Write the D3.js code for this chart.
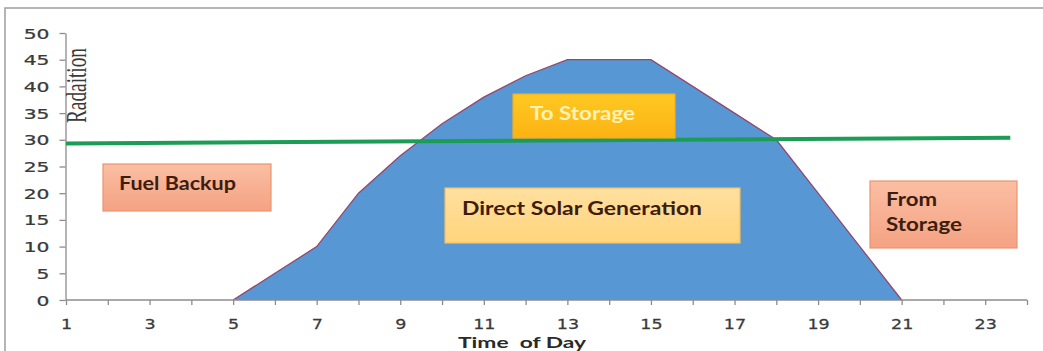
<!DOCTYPE html>
<html>
<head>
<meta charset="utf-8">
<script src="https://cdn.jsdelivr.net/npm/d3@7"></script>
<style>
  html, body { margin: 0; padding: 0; background: #ffffff; }
  svg { display: block; }
</style>
</head>
<body>
<svg id="chart" width="1043" height="351"></svg>
<script>
// ---- data ----
const hours = [5, 6, 7, 8, 9, 10, 11, 12, 13, 14, 15, 16, 17, 18, 19, 20, 21];
const radiation = [0, 5, 10, 20, 27, 33, 38, 42, 45, 45, 45, 40, 35, 30, 20, 10, 0];
const demandHours = [1, 23.6];
const demandValues = [29.3, 30.4];
const xTickValues = d3.range(1, 25);
const xTickLabels = [1, 3, 5, 7, 9, 11, 13, 15, 17, 19, 21, 23];
const yTickValues = [0, 5, 10, 15, 20, 25, 30, 35, 40, 45, 50];
const yTitle = "Radaition";
const xTitle = "Time  of Day";
const annotationText = [
  ["Fuel Backup"],
  ["To Storage"],
  ["Direct Solar Generation"],
  ["From", "Storage"]
];

// ---- layout ----
const svg = d3.select("#chart");
const x = d3.scaleLinear().domain([1, 24]).range([66, 1027]);
const y = d3.scaleLinear().domain([0, 50]).range([300, 33]);

const defs = svg.append("defs");
function vGrad(id, top, bottom) {
  const g = defs.append("linearGradient").attr("id", id)
    .attr("x1", 0).attr("y1", 0).attr("x2", 0).attr("y2", 1);
  g.append("stop").attr("offset", "0%").attr("stop-color", top);
  g.append("stop").attr("offset", "100%").attr("stop-color", bottom);
}
vGrad("salmon", "#fbbea3", "#f4a283");
vGrad("gold", "#ffc823", "#fbb312");
vGrad("cream", "#ffe0a0", "#ffd47c");

// chart frame
svg.append("rect")
  .attr("x", 5).attr("y", 8).attr("width", 1060).attr("height", 400)
  .attr("fill", "#ffffff").attr("stroke", "#a3a3a3").attr("stroke-width", 1.6);

// solar radiation area
const pts = hours.map((h, i) => [h, radiation[i]]);
svg.append("path")
  .datum(pts)
  .attr("fill", "#5797d4")
  .attr("d", d3.area().x(d => x(d[0])).y0(y(0)).y1(d => y(d[1])));
svg.append("path")
  .datum(pts)
  .attr("fill", "none")
  .attr("stroke", "#94476d")
  .attr("stroke-width", 1.3)
  .attr("d", d3.line().x(d => x(d[0])).y(d => y(d[1])));

// axes
const axisColor = "#8c8c8c";
const xAxis = svg.append("g")
  .attr("transform", `translate(0,${y(0)})`)
  .call(d3.axisBottom(x).tickValues(xTickValues).tickSizeOuter(0).tickSize(5)
    .tickFormat(d => xTickLabels.includes(d) ? d : ""));
xAxis.select(".domain").attr("stroke", axisColor).attr("stroke-width", 1.3)
  .attr("d", `M${x(1)},0H${x(24)}`);
xAxis.selectAll(".tick line").attr("stroke", axisColor).attr("stroke-width", 1.3);
xAxis.selectAll(".tick text")
  .attr("y", 29.5).attr("dy", 0)
  .attr("transform", "scale(1.3,1)")
  .attr("font-family", "DejaVu Sans")
  .attr("font-size", 13.5)
  .attr("fill", "#3a3a3a")
  .attr("stroke", "#3a3a3a").attr("stroke-width", 0.25);

const yAxis = svg.append("g")
  .attr("transform", `translate(${x(1) - 0.5},0)`)
  .call(d3.axisLeft(y).tickValues(yTickValues).tickSize(6).tickSizeOuter(0));
yAxis.select(".domain").attr("stroke", axisColor).attr("stroke-width", 1.3);
yAxis.selectAll(".tick line").attr("stroke", axisColor).attr("stroke-width", 1.3);
yAxis.selectAll(".tick text")
  .attr("x", 0).attr("dy", "0.36em")
  .attr("text-anchor", "end")
  .attr("transform", "translate(-16,0) scale(1.45,1)")
  .attr("font-family", "DejaVu Sans")
  .attr("font-size", 14)
  .attr("fill", "#3a3a3a")
  .attr("stroke", "#3a3a3a").attr("stroke-width", 0.25);

// demand line
svg.append("path")
  .datum(demandHours.map((h, i) => [h, demandValues[i]]))
  .attr("fill", "none")
  .attr("stroke", "#1b9d55")
  .attr("stroke-width", 4)
  .attr("d", d3.line().x(d => x(d[0])).y(d => y(d[1])));

// axis titles
svg.append("text")
  .attr("transform", "translate(86,123) scale(1.5,1) rotate(-90)")
  .attr("font-family", "Liberation Serif")
  .attr("font-size", 19)
  .attr("fill", "#3a3a3a")
  .attr("textLength", 75)
  .attr("lengthAdjust", "spacingAndGlyphs")
  .text(yTitle);

svg.append("text")
  .attr("x", 458).attr("y", 347.5)
  .attr("font-family", "Lato")
  .attr("font-weight", "bold")
  .attr("font-size", 15.5)
  .attr("fill", "#2a2a2a")
  .attr("textLength", 128)
  .attr("lengthAdjust", "spacingAndGlyphs")
  .attr("xml:space", "preserve")
  .style("white-space", "pre")
  .text(xTitle);

// annotation boxes
const boxLayout = [
  { x0: 103, y0: 164, x1: 271, y1: 211, fill: "url(#salmon)", stroke: "#e99470", color: "#3c1d0e",
    lines: [{ x: 119, y: 190, w: 117 }] },
  { x0: 513, y0: 94, x1: 675, y1: 138, fill: "url(#gold)", stroke: "#f2b01a", color: "#fff2b5",
    lines: [{ x: 530, y: 120, w: 105 }] },
  { x0: 445, y0: 188, x1: 740, y1: 243, fill: "url(#cream)", stroke: "#f2c062", color: "#3c1d0e",
    lines: [{ x: 462, y: 215, w: 240 }] },
  { x0: 870, y0: 181, x1: 1017, y1: 248, fill: "url(#salmon)", stroke: "#e99470", color: "#3c1d0e",
    lines: [{ x: 886, y: 206, w: 51 }, { x: 886, y: 231, w: 76 }] }
];

const boxes = svg.selectAll("g.note")
  .data(boxLayout.map((b, i) => ({ ...b, text: annotationText[i] })))
  .join("g").attr("class", "note");
boxes.append("rect")
  .attr("x", d => d.x0).attr("y", d => d.y0)
  .attr("width", d => d.x1 - d.x0).attr("height", d => d.y1 - d.y0)
  .attr("fill", d => d.fill).attr("stroke", d => d.stroke).attr("stroke-width", 1.2);
boxes.each(function (d) {
  d3.select(this).selectAll("text")
    .data(d.lines.map((l, i) => ({ ...l, t: d.text[i], color: d.color })))
    .join("text")
    .attr("x", l => l.x).attr("y", l => l.y)
    .attr("font-family", "Lato")
    .attr("font-weight", "bold")
    .attr("font-size", 18)
    .attr("fill", l => l.color)
    .attr("textLength", l => l.w)
    .attr("lengthAdjust", "spacingAndGlyphs")
    .text(l => l.t);
});
</script>
</body>
</html>
